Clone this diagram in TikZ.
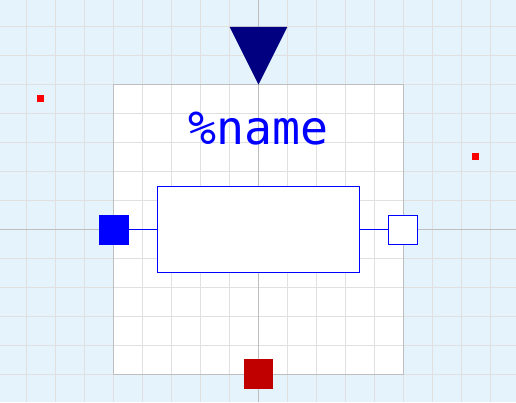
\documentclass[tikz,border=0pt]{standalone}
\usepackage{fontspec}
\newfontfamily\labelfont{DejaVu Sans Mono}
\definecolor{bgblue}{RGB}{229,243,253}
\definecolor{gridgray}{RGB}{224,224,224}
\definecolor{axisgray}{RGB}{190,190,190}
\definecolor{portblue}{RGB}{0,0,255}
\definecolor{trignavy}{RGB}{0,0,128}
\definecolor{darkred}{RGB}{192,0,0}
\begin{document}
\begin{tikzpicture}[x=1.448pt,y=1.448pt,
		port/.style={draw=portblue,line width=1pt,minimum size=28.96pt,inner sep=0pt},
		dot/.style={fill=red,minimum size=7pt,inner sep=0pt}]
			\fill[bgblue] (-178.5,-119.1) rectangle (177.8,158.5);
			\useasboundingbox (-178.5,-119.1) rectangle (177.8,158.5);
			\fill[white] (-100,-100) rectangle (100,100);
			\foreach \x in {-160,-140,...,160}
			\draw[gridgray,line width=1pt] (\x,-119.1)--(\x,158.5);
			\foreach \y in {-100,-80,...,140}
			\draw[gridgray,line width=1pt] (-178.5,\y)--(177.8,\y);
			\draw[axisgray,line width=1pt] (-178.5,0)--(177.8,0) (0,-119.1)--(0,158.5);
			\draw[axisgray,line width=1pt] (-100,-100) rectangle (100,100);
			\fill[trignavy] (-20,140)--(20,140)--(0,100)--cycle;
			\node[portblue,anchor=base] (name) at (0,58.8) {\labelfont\fontsize{46.5}{50}\selectfont\%name};
			\node[draw=portblue,fill=white,line width=1pt,minimum width=202.7pt,minimum height=86.9pt,inner sep=0pt] (block) at (0,0) {};
			\node[port,fill=portblue] (u) at (-100,0) {};
			\node[port,fill=white] (y) at (100,0) {};
			\node[port,draw=darkred,fill=darkred] (reset) at (0,-100) {};
			\draw[portblue,line width=1pt] (u)--(block) (block)--(y);
			\node[dot] (d1) at (-150.6,90.5) {};
			\node[dot] (d2) at (149.9,50.4) {};
			\end{tikzpicture}
\end{document}
